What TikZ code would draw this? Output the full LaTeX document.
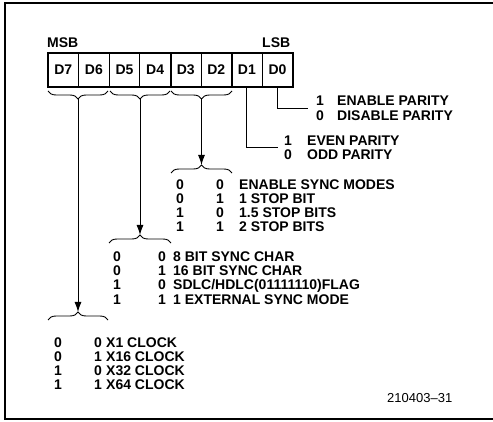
\documentclass[tikz,border=0pt]{standalone}
\usepackage{fontspec}
\setmainfont{Liberation Sans}
\usetikzlibrary{decorations.pathreplacing,arrows.meta}
\tikzset{
  cell/.style={draw,line width=0.8pt,minimum width=30.6pt,minimum height=34pt,
    inner sep=0pt,font=\bfseries\fontsize{14}{14}\selectfont},
  lbl/.style={anchor=west,inner sep=0pt,text height=10pt,text depth=0pt,
    font=\bfseries\fontsize{14}{14}\selectfont},
  brc/.style={decorate,decoration={brace,amplitude=8pt},line width=0.9pt},
  lead/.style={line width=1pt},
  arr/.style={lead,-{Latex[length=10pt,width=7pt]}},
}
\begin{document}
\begin{tikzpicture}[x=1pt,y=-1pt]
\useasboundingbox (0,0) rectangle (493,422);
\draw[line width=1.2pt] (493,3) -- (5,3) -- (5,419) -- (493,419);
% 寄存器
\node[cell] (d7) at (63.3,70) {D7};
\node[cell] (d6) at (93.9,70) {D6};
\node[cell] (d5) at (124.5,70) {D5};
\node[cell] (d4) at (155.1,70) {D4};
\node[cell] (d3) at (185.7,70) {D3};
\node[cell] (d2) at (216.3,70) {D2};
\node[cell] (d1) at (246.9,70) {D1};
\node[cell] (d0) at (277.5,70) {D0};
\draw[line width=1.8pt] (d7.north west) rectangle (d0.south east);
\draw[line width=1.6pt] (d6.north east) -- (d6.south east);
\draw[line width=1.6pt] (d4.north east) -- (d4.south east);
\draw[line width=1.6pt] (d2.north east) -- (d2.south east);
\node[lbl] (msb) at (47,43) {MSB};
\node[lbl] (lsb) at (262,43) {LSB};
% 括号
\draw[brc] (108,91) -- (48,91);
\draw[brc] (170,91) -- (110,91);
\draw[brc] (232,91) -- (171,91);
\coordinate (u76) at (78,99);
\coordinate (u54) at (140,99);
\coordinate (u32) at (201.5,99);
\draw[brc] (48,320) -- (108,320);
\draw[brc] (109,243) -- (171,243);
\draw[brc] (171,173) -- (232,173);
\coordinate (l76) at (78,312);
\coordinate (l54) at (140,235);
\coordinate (l32) at (201.5,165);
\draw[arr] (u76) -- (l76);
\draw[arr] (u54) -- (l54);
\draw[arr] (u32) -- (l32);
% 奇偶校验
\coordinate (p0) at (308,109);
\coordinate (p1) at (278,147.5);
\draw[lead] (d0.south) |- (p0);
\draw[lead] (d1.south) |- (p1);
\node[lbl] (en) at (316,101) {1};
\node[lbl] (ent) at (337,101) {ENABLE PARITY};
\node[lbl] (dis) at (316,115.5) {0};
\node[lbl] (dist) at (337,115.5) {DISABLE PARITY};
\node[lbl] (ev) at (284,140.5) {1};
\node[lbl] (evt) at (307,140.5) {EVEN PARITY};
\node[lbl] (od) at (284,155) {0};
\node[lbl] (odt) at (307,155) {ODD PARITY};
% 停止位
\foreach \i/\a/\b/\t in {0/0/0/ENABLE SYNC MODES,1/0/1/1 STOP BIT,2/1/0/1.5 STOP BITS,3/1/1/2 STOP BITS}{
  \node[lbl] (sa\i) at (176,{185+14*\i}) {\a};
  \node[lbl] (sb\i) at (216,{185+14*\i}) {\b};
  \node[lbl] (st\i) at (239,{185+14*\i}) {\t};
}
% 同步字符
\foreach \i/\a/\b/\t in {0/0/0/8 BIT SYNC CHAR,1/0/1/16 BIT SYNC CHAR,2/1/0/{SDLC/HDLC(01111110)FLAG},3/1/1/1 EXTERNAL SYNC MODE}{
  \node[lbl] (ca\i) at (113,{256.5+14.2*\i}) {\a};
  \node[lbl] (cb\i) at (158,{256.5+14.2*\i}) {\b};
  \node[lbl] (ct\i) at (173,{256.5+14.2*\i}) {\t};
}
% 时钟
\foreach \i/\a/\b/\t in {0/0/0/X1 CLOCK,1/0/1/X16 CLOCK,2/1/0/X32 CLOCK,3/1/1/X64 CLOCK}{
  \node[lbl] (ka\i) at (54,{342+14.3*\i}) {\a};
  \node[lbl] (kb\i) at (94,{342+14.3*\i}) {\b};
  \node[lbl] (kt\i) at (106,{342+14.3*\i}) {\t};
}
\node[anchor=west,inner sep=0pt,font=\fontsize{13}{13}\selectfont] (fig) at (387,398) {210403--31};
\end{tikzpicture}
\end{document}
